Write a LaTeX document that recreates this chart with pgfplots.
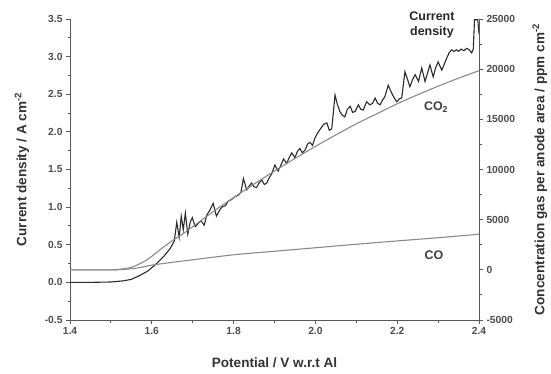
\documentclass[border=0pt]{standalone}
\usepackage{fontspec}
\setmainfont{Liberation Sans}
\usepackage{pgfplots}
\pgfplotsset{compat=1.18}
\definecolor{cdcol}{HTML}{2B2B2B}
\definecolor{gascol}{HTML}{8A8A8A}
\begin{document}
\begin{tikzpicture}
\path[use as bounding box] (0,0) rectangle (551bp,374bp);
\pgfplotsset{
  common/.style={
    at={(70bp,54bp)}, anchor=south west,
    scale only axis, width=409bp, height=301bp,
    xmin=1.4, xmax=2.4,
    tick label style={font=\fontsize{10.3}{12}\selectfont\bfseries, text=black!70},
    label style={font=\fontsize{13.6}{16}\selectfont\bfseries, text=black!80},
    /pgf/number format/assume math mode=true,
    axis line style={black!65, line width=1pt},
    major tick style={black!65, line width=0.9pt},
    minor tick style={black!65, line width=0.9pt},
    major tick length=4bp, minor tick length=2.5bp,
    tick align=outside,
  }
}
\begin{axis}[common,
  axis x line*=bottom, axis y line*=left,
  ymin=-0.5, ymax=3.5,
  xtick={1.4,1.6,...,2.4}, minor x tick num=1,
  ytick={-0.5,0,...,3.5}, minor y tick num=1,
  xticklabel style={/pgf/number format/fixed, /pgf/number format/fixed zerofill, /pgf/number format/precision=1},
  yticklabel style={/pgf/number format/fixed, /pgf/number format/fixed zerofill, /pgf/number format/precision=1},
  xlabel={Potential / V w.r.t Al},
  ylabel={Current density / A cm\textsuperscript{-2}},
  xlabel style={at={(axis description cs:0.5,0)}, anchor=base, yshift=-47bp},
  ylabel style={at={(axis description cs:-0.1174,0.5)}, anchor=center},
  clip=false,
]
\addplot[cdcol, line width=1.1pt] coordinates {
(1.40,0.00) (1.45,0.00) (1.50,0.005) (1.53,0.02) (1.55,0.04) (1.57,0.09)
(1.59,0.15) (1.61,0.24) (1.63,0.35) (1.645,0.45) (1.655,0.55) (1.661,0.80)
(1.667,0.60) (1.672,0.88) (1.677,0.70) (1.682,0.92) (1.688,0.64) (1.694,0.80)
(1.699,0.86) (1.706,0.74) (1.713,0.78) (1.720,0.82) (1.728,0.76) (1.735,0.90)
(1.742,0.96) (1.750,1.05) (1.758,0.88) (1.765,0.95) (1.771,1.00) (1.780,1.02)
(1.787,1.08) (1.795,1.10) (1.803,1.14) (1.812,1.16) (1.818,1.20) (1.824,1.38)
(1.832,1.23) (1.838,1.28) (1.844,1.32) (1.850,1.27) (1.856,1.26) (1.862,1.32)
(1.869,1.36) (1.875,1.30) (1.881,1.32) (1.888,1.40) (1.893,1.44) (1.901,1.56)
(1.909,1.48) (1.915,1.55) (1.922,1.64) (1.930,1.58) (1.936,1.66) (1.942,1.72)
(1.950,1.66) (1.956,1.74) (1.962,1.78) (1.968,1.72) (1.975,1.76) (1.981,1.84)
(1.987,1.86) (1.993,1.82) (1.999,1.92) (2.005,1.98) (2.011,2.03) (2.020,2.10)
(2.028,2.12) (2.034,2.02) (2.040,2.04) (2.048,2.49) (2.054,2.36) (2.060,2.27)
(2.066,2.22) (2.072,2.20) (2.078,2.30) (2.085,2.34) (2.091,2.26) (2.097,2.27)
(2.105,2.36) (2.111,2.30) (2.117,2.29) (2.125,2.40) (2.133,2.36) (2.140,2.38)
(2.146,2.45) (2.152,2.38) (2.158,2.36) (2.164,2.42) (2.170,2.47) (2.178,2.62)
(2.187,2.51) (2.193,2.45) (2.199,2.40) (2.205,2.44) (2.211,2.45) (2.219,2.80)
(2.225,2.70) (2.231,2.60) (2.238,2.70) (2.244,2.76) (2.252,2.67) (2.260,2.85)
(2.268,2.67) (2.274,2.78) (2.280,2.89) (2.288,2.73) (2.294,2.85) (2.300,2.93)
(2.309,2.82) (2.315,2.90) (2.321,2.98) (2.327,3.05) (2.333,3.09) (2.339,3.07)
(2.345,3.09) (2.350,3.07) (2.356,3.10) (2.363,3.08) (2.370,3.11) (2.376,3.09)
(2.382,3.05) (2.386,3.10) (2.389,3.49) (2.397,3.49) (2.400,3.30)
};
\node[font=\fontsize{12.5}{14.5}\selectfont\bfseries, text=black!85, align=center] at (axis cs:2.285,3.42) {Current\\density};
\node[font=\fontsize{12.5}{14}\selectfont\bfseries, text=black!75] at (axis cs:2.295,2.33) {CO\textsubscript{2}};
\node[font=\fontsize{12.5}{14}\selectfont\bfseries, text=black!75] at (axis cs:2.29,0.365) {CO};
\end{axis}
\begin{axis}[common,
  axis x line=none, axis y line*=right,
  ymin=-5000, ymax=25000,
  ytick={-5000,0,...,25000}, minor y tick num=1,
  scaled y ticks=false,
  yticklabel style={/pgf/number format/1000 sep={}},
  ylabel={Concentration gas per anode area / ppm cm\textsuperscript{-2}},
  ylabel style={at={(axis description cs:1.149,0.5)}, anchor=center},
]
\addplot[gascol, line width=1.1pt, smooth, tension=0.5] coordinates {
(1.40,0) (1.50,0) (1.52,50) (1.55,250) (1.58,800) (1.60,1350) (1.62,2000)
(1.65,2900) (1.68,3700) (1.70,4300) (1.75,5800) (1.80,7200) (1.85,8550)
(1.90,9850) (1.95,11100) (2.00,12300) (2.05,13450) (2.10,14550) (2.15,15550)
(2.20,16550) (2.25,17450) (2.30,18300) (2.35,19100) (2.40,19850)
};
\addplot[gascol, line width=1.1pt, smooth, tension=0.5] coordinates {
(1.40,0) (1.50,0) (1.53,40) (1.56,150) (1.58,300) (1.60,470) (1.65,750) (1.70,1000)
(1.80,1500) (1.90,1850) (2.00,2200) (2.10,2550) (2.20,2880) (2.30,3200) (2.40,3550)
};
\end{axis}
\end{tikzpicture}
\end{document}
